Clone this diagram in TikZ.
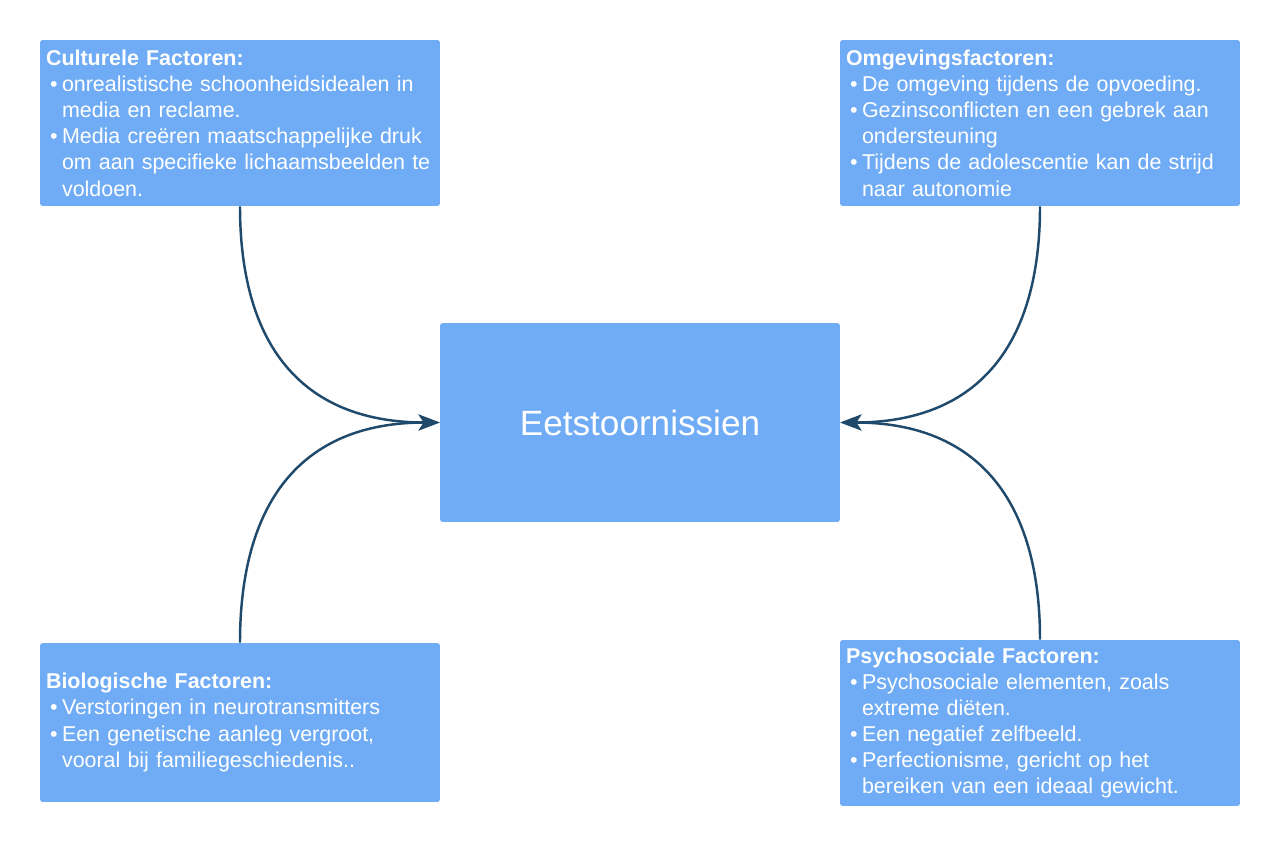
\documentclass[tikz,border=0pt]{standalone}
\usepackage{fontspec}
\setmainfont{Liberation Sans}
\usepackage{tikz}
\usepackage{xcolor}
\usetikzlibrary{arrows.meta, positioning}

\definecolor{boxblue}{RGB}{112,172,245}
\definecolor{linknavy}{RGB}{31,74,107}

\newcommand{\blt}{\makebox[0.32cm][l]{\hspace{0.08cm}\textbullet}}
\newcommand{\cntd}{\hspace*{0.32cm}}

\tikzset{
  factor/.style={rectangle, rounded corners=1.5pt, fill=boxblue, text=white,
    minimum width=8cm, minimum height=3.32cm, text width=7.76cm, inner xsep=0.12cm,
    align=left, font=\fontsize{12.2}{14.9}\selectfont},
  core/.style={rectangle, rounded corners=1.5pt, fill=boxblue, text=white,
    minimum width=8cm, minimum height=3.98cm, font=\fontsize{20}{24}\selectfont},
  link/.style={draw=linknavy, line width=1.4pt, -{Stealth[length=12pt, width=9pt, inset=3pt]}, looseness=1.2}
}

\begin{document}
\begin{tikzpicture}[x=0.02cm, y=-0.02cm]
                        \useasboundingbox (0,0) rectangle (1280,847);

                        \node[core] (eet) at (640,422.5) {Eetstoornissien};
                        \node[factor] (cult) at (240,123) {\textbf{Culturele Factoren:}\\
                            \blt onrealistische schoonheidsidealen in\\
                            \cntd media en reclame.\\
                            \blt Media creëren maatschappelijke druk\\
                            \cntd om aan specifieke lichaamsbeelden te\\
                            \cntd voldoen.};
                        \node[factor] (omg) at (1040,123) {\textbf{Omgevingsfactoren:}\\
                            \blt De omgeving tijdens de opvoeding.\\
                            \blt Gezinsconflicten en een gebrek aan\\
                            \cntd ondersteuning\\
                            \blt Tijdens de adolescentie kan de strijd\\
                            \cntd naar autonomie};
                        \node[factor, minimum height=3.18cm] (bio) at (240,722.5) {\textbf{Biologische Factoren:}\\
                            \blt Verstoringen in neurotransmitters\\
                            \blt Een genetische aanleg vergroot,\\
                            \cntd vooral bij familiegeschiedenis..};
                        \node[factor] (psy) at (1040,723) {\textbf{Psychosociale Factoren:}\\
                            \blt Psychosociale elementen, zoals\\
                            \cntd extreme diëten.\\
                            \blt Een negatief zelfbeeld.\\
                            \blt Perfectionisme, gericht op het\\
                            \cntd bereiken van een ideaal gewicht.};

                        \draw[link] (cult.south) to[out=-90, in=180] (eet.west);
                        \draw[link] (bio.north) to[out=90, in=180] (eet.west);
                        \draw[link] (omg.south) to[out=-90, in=0] (eet.east);
                        \draw[link] (psy.north) to[out=90, in=0] (eet.east);
                    \end{tikzpicture}
\end{document}
